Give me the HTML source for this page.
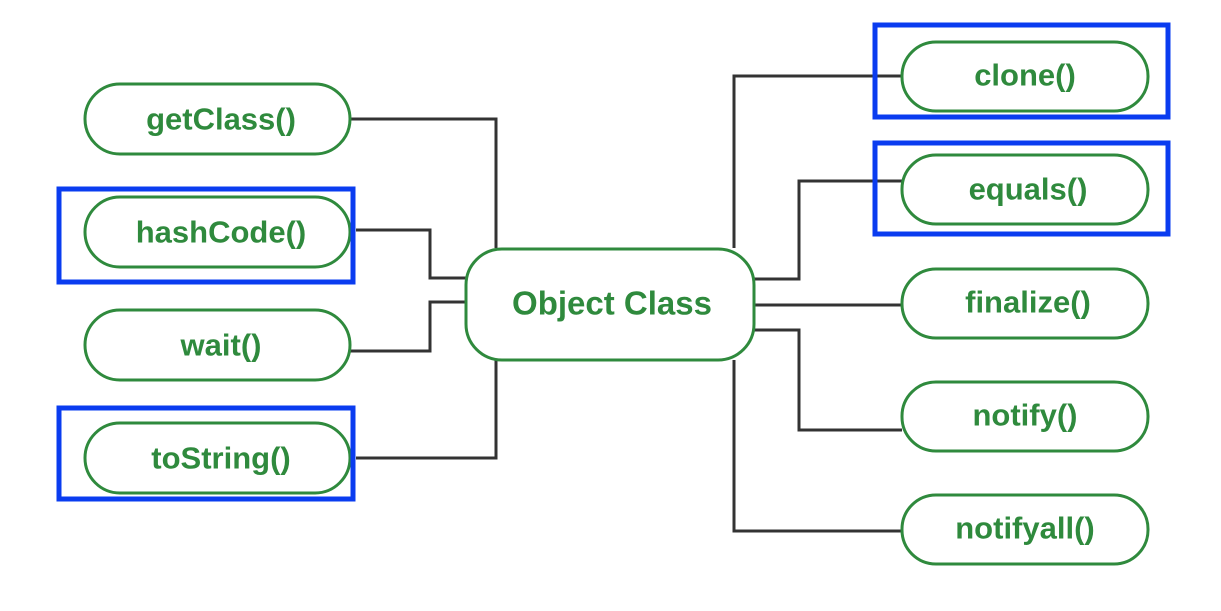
<!DOCTYPE html>
<html><head><meta charset="utf-8"><style>
html,body{margin:0;padding:0;background:#fff;}
svg{display:block;}
text{font-family:"Liberation Sans",sans-serif;font-weight:bold;fill:#2f8a3d;text-anchor:middle;dominant-baseline:central;}
</style></head><body>
<svg width="1221" height="611" viewBox="0 0 1221 611" xmlns="http://www.w3.org/2000/svg">
<g fill="none" stroke="#333" stroke-width="3">
<polyline points="350,119 496,119 496,248"/>
<polyline points="356,230 430,230 430,278 466,278"/>
<polyline points="350,351 430,351 430,302 466,302"/>
<polyline points="356,458 496,458 496,360"/>
<polyline points="734,248 734,76 902,76"/>
<polyline points="754,279 799,279 799,181 902,181"/>
<polyline points="754,305 902,305"/>
<polyline points="754,330 799,330 799,430 902,430"/>
<polyline points="734,360 734,531 902,531"/>
</g>
<g fill="#fff" stroke="#2f8a3d" stroke-width="3">
<rect x="85" y="84" width="265" height="70" rx="35"/>
<rect x="85" y="197" width="265" height="70" rx="35"/>
<rect x="85" y="310" width="265" height="70" rx="35"/>
<rect x="85" y="423" width="265" height="70" rx="35"/>
<rect x="902" y="42" width="246" height="69" rx="34"/>
<rect x="902" y="155" width="246" height="69" rx="34"/>
<rect x="902" y="269" width="246" height="69" rx="34"/>
<rect x="902" y="382" width="246" height="69" rx="34"/>
<rect x="902" y="495" width="246" height="69" rx="34"/>
<rect x="466" y="249" width="288" height="111" rx="36"/>
</g>
<g fill="none" stroke="#0a3cf0" stroke-width="5">
<rect x="59" y="189" width="294" height="93"/>
<rect x="59" y="408" width="294" height="91"/>
<rect x="875" y="25" width="293" height="92"/>
<rect x="875" y="143" width="293" height="91"/>
</g>
<text x="221" y="119" font-size="31">getClass()</text>
<text x="221" y="232" font-size="31">hashCode()</text>
<text x="221" y="345" font-size="31">wait()</text>
<text x="221" y="458" font-size="31">toString()</text>
<text x="1025" y="75" font-size="31">clone()</text>
<text x="1028" y="189" font-size="31">equals()</text>
<text x="1028" y="302" font-size="31">finalize()</text>
<text x="1025" y="415" font-size="31">notify()</text>
<text x="1025" y="528" font-size="31">notifyall()</text>
<text x="612" y="303" font-size="33">Object Class</text>
</svg>
</body></html>
